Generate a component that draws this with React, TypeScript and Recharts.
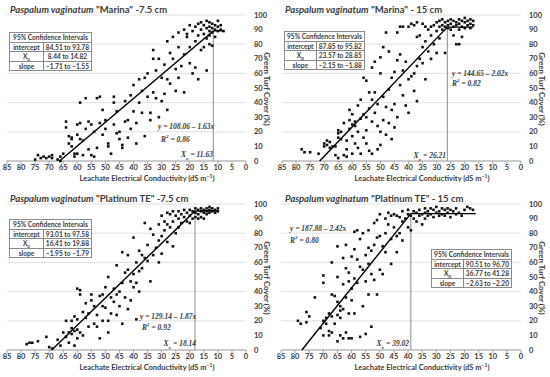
import React from "react";
import { ScatterChart, Scatter, XAxis, YAxis, CartesianGrid, ReferenceLine } from "recharts";

type Pt = [number, number];

const ecTicks = [85, 80, 75, 70, 65, 60, 55, 50, 45, 40, 35, 30, 25, 20, 15, 10, 5, 0];
const coverTicks = [0, 10, 20, 30, 40, 50, 60, 70, 80, 90, 100];

// Paspalum vaginatum "Marina" -7.5 cm
const marina75: Pt[] = [
  [75, 1], [74, 4], [73, 2], [72, 3], [71, 2], [70, 3], [69, 4], [69, 2], [67, 1], [66, 0], [66, 3], [65, 5],
  [64, 23], [64, 27], [63, 17], [63, 12], [62, 15], [62, 16], [62, 10], [61, 5], [61, 3], [60, 25], [60, 18],
  [60, 5], [59, 40], [59, 26], [59, 15], [58, 14], [58, 4], [57, 43], [57, 22], [56, 27], [56, 8], [55, 25],
  [55, 4], [54, 3], [54, 20], [53, 43], [53, 9], [52, 44], [52, 26], [51, 18], [51, 35], [50, 28], [50, 22],
  [49, 12], [49, 10], [48, 5], [47, 44], [47, 40], [47, 25], [46, 19], [46, 34], [45, 20], [45, 15], [44, 11],
  [44, 9], [43, 41], [43, 27], [42, 16], [42, 28], [41, 45], [41, 22], [40, 52], [40, 34], [39, 26], [39, 12],
  [38, 56], [38, 40], [37, 48], [37, 33], [36, 17], [36, 57], [35, 44], [35, 60], [34, 28], [34, 33], [33, 76],
  [33, 70], [33, 47], [32, 62], [32, 43], [31, 70], [31, 30], [30, 57], [30, 41], [29, 66], [29, 46], [28, 35],
  [28, 82], [28, 56], [27, 74], [27, 53], [26, 85], [26, 70], [25, 63], [25, 48], [24, 88], [24, 78], [24, 57],
  [23, 65], [22, 73], [22, 90], [22, 47], [21, 87], [21, 85], [20, 93], [20, 78], [20, 67], [19, 89], [19, 60],
  [18, 92], [18, 82], [18, 64], [17, 94], [17, 86], [17, 56], [16, 95], [16, 90], [16, 76], [15, 93], [15, 87],
  [15, 78], [14, 96], [14, 91], [14, 84], [14, 62], [13, 95], [13, 92], [13, 89], [13, 86], [13, 80], [12, 94],
  [12, 91], [12, 88], [12, 79], [11, 93], [11, 90], [11, 85], [10, 96], [10, 92], [10, 89], [9, 93], [9, 90], [8, 89],
];

// Paspalum vaginatum "Marina" - 15 cm
const marina15: Pt[] = [
  [78, 8], [77, 6], [75, 6], [72, 5], [70, 12], [70, 10], [69, 14], [69, 11], [68, 13], [68, 9], [67, 10], [66, 10],
  [66, 4], [65, 21], [65, 19], [65, 16], [65, 2], [64, 20], [64, 15], [63, 26], [63, 4], [62, 14], [62, 8], [62, 3],
  [61, 35], [61, 28], [61, 22], [60, 32], [60, 25], [60, 17], [60, 5], [59, 27], [59, 24], [59, 12], [58, 38],
  [58, 20], [58, 9], [57, 29], [57, 42], [57, 5], [56, 57], [56, 32], [56, 16], [55, 55], [55, 30], [55, 21],
  [55, 12], [54, 47], [54, 36], [54, 7], [53, 64], [53, 42], [53, 27], [53, 5], [52, 68], [52, 47], [52, 33],
  [51, 39], [51, 24], [51, 8], [50, 71], [50, 60], [50, 20], [50, 11], [49, 78], [49, 44], [49, 28], [48, 88],
  [48, 37], [48, 18], [47, 75], [47, 49], [47, 26], [46, 57], [46, 35], [46, 15], [45, 61], [45, 39], [45, 23],
  [44, 88], [44, 69], [44, 30], [43, 92], [43, 73], [43, 52], [42, 92], [42, 62], [42, 45], [41, 68], [41, 38],
  [40, 92], [40, 56], [40, 33], [39, 94], [39, 58], [38, 93], [38, 60], [38, 48], [37, 95], [37, 85], [37, 65],
  [37, 41], [36, 86], [36, 70], [35, 94], [35, 78], [35, 67], [34, 92], [34, 82], [34, 56], [33, 90], [33, 75],
  [32, 92], [32, 86], [32, 70], [31, 93], [31, 80], [30, 95], [30, 89], [30, 74], [29, 96], [29, 92], [29, 84],
  [28, 97], [28, 93], [28, 90], [27, 95], [27, 92], [27, 74], [26, 96], [26, 93], [26, 91], [25, 97], [25, 94],
  [25, 90], [24, 96], [24, 92], [24, 86], [23, 95], [23, 93], [23, 80], [22, 97], [22, 94], [22, 90], [22, 80],
  [21, 96], [21, 92], [21, 85], [20, 98], [20, 95], [20, 91], [19, 96], [19, 93], [18, 97], [18, 94], [18, 91],
  [17, 96], [17, 93],
];

// Paspalum vaginatum "Platinum TE" -7.5 cm
const platinum75: Pt[] = [
  [78, 4], [77, 5], [76, 5], [74, 6], [71, 9], [70, 2], [69, 1], [67, 7], [66, 3], [65, 12], [64, 20], [64, 9],
  [63, 12], [63, 5], [62, 20], [62, 15], [62, 11], [61, 23], [61, 13], [61, 3], [60, 42], [60, 21], [60, 14],
  [60, 8], [59, 41], [59, 38], [59, 12], [58, 26], [58, 10], [57, 22], [57, 32], [56, 25], [56, 16], [55, 38],
  [55, 34], [54, 30], [54, 18], [53, 24], [53, 16], [52, 8], [52, 37], [51, 38], [51, 30], [51, 20], [50, 43],
  [50, 29], [49, 50], [49, 20], [49, 12], [48, 36], [48, 25], [47, 42], [47, 33], [46, 58], [46, 38], [46, 24],
  [45, 40], [45, 30], [44, 67], [44, 46], [44, 18], [43, 53], [43, 36], [42, 65], [42, 55], [42, 28], [41, 47],
  [41, 34], [40, 77], [40, 52], [40, 43], [39, 60], [39, 46], [39, 21], [38, 68], [38, 54], [38, 40], [37, 65],
  [37, 56], [36, 87], [36, 63], [35, 72], [35, 61], [34, 83], [34, 47], [33, 79], [33, 65], [32, 70], [31, 86],
  [31, 75], [31, 60], [30, 92], [30, 78], [30, 66], [29, 88], [29, 82], [28, 94], [28, 86], [28, 74], [27, 93],
  [27, 84], [26, 95], [26, 88], [26, 71], [25, 92], [25, 80], [24, 95], [24, 90], [24, 84], [23, 93], [23, 87],
  [22, 96], [22, 91], [21, 94], [21, 88], [20, 96], [20, 92], [20, 87], [19, 95], [19, 90], [18, 97], [18, 94],
  [18, 91], [17, 96], [17, 93], [17, 90], [16, 97], [16, 95], [16, 91], [15, 96], [15, 94], [15, 90], [14, 97],
  [14, 95], [14, 93], [13, 98], [13, 96], [13, 94], [12, 97], [12, 95], [11, 96], [11, 94], [10, 97], [10, 95],
];

// Paspalum vaginatum "Platinum TE" - 15 cm
const platinum15: Pt[] = [
  [79, 20], [78, 18], [76, 26], [76, 19], [75, 23], [73, 36], [71, 15], [70, 51], [70, 46], [70, 20], [70, 10],
  [69, 22], [69, 18], [68, 25], [68, 13], [68, 10], [67, 60], [67, 38], [67, 23], [67, 12], [66, 37], [66, 18],
  [65, 71], [65, 50], [65, 33], [65, 24], [65, 6], [64, 30], [64, 27], [64, 22], [64, 10], [63, 63], [63, 45],
  [63, 28], [63, 8], [62, 72], [62, 56], [62, 36], [62, 12], [61, 53], [61, 47], [61, 25], [61, 8], [60, 64],
  [60, 42], [60, 34], [60, 8], [59, 81], [59, 69], [59, 49], [59, 25], [58, 82], [58, 62], [58, 46], [57, 76],
  [57, 57], [57, 9], [56, 80], [56, 55], [56, 30], [55, 65], [55, 47], [55, 11], [54, 82], [54, 70], [54, 59],
  [54, 38], [53, 68], [53, 52], [53, 16], [52, 87], [52, 72], [52, 48], [51, 89], [51, 77], [51, 38], [50, 93],
  [50, 78], [50, 55], [49, 71], [49, 52], [48, 90], [48, 80], [48, 67], [47, 94], [47, 86], [46, 92], [46, 76],
  [46, 59], [45, 93], [45, 84], [44, 92], [44, 78], [44, 67], [43, 91], [43, 80], [42, 95], [42, 88], [42, 75],
  [41, 90], [40, 96], [40, 84], [40, 93], [39, 92], [39, 82], [38, 95], [38, 90], [37, 94], [37, 88], [36, 96],
  [36, 92], [35, 93], [35, 86], [34, 97], [34, 94], [34, 90], [33, 95], [33, 92], [32, 97], [32, 93], [31, 96],
  [31, 91], [30, 98], [30, 94], [29, 95], [29, 92], [28, 97], [28, 93], [27, 96], [27, 92], [26, 97], [26, 94],
  [25, 96], [25, 91], [24, 95], [23, 97], [23, 93], [22, 94], [21, 92], [20, 96], [19, 98], [18, 97], [17, 96],
];

// fitted linear-plateau lines (x-intercept, break point, plateau end)
const marina75Fit: Pt[] = [[66.3, 0], [11.63, 89.1], [8, 89.1]];
const marina15Fit: Pt[] = [[71.6, 0], [26.21, 91.7], [17, 91.7]];
const platinum75Fit: Pt[] = [[69.1, 0], [18.14, 95.2], [10, 95.2]];
const platinum15Fit: Pt[] = [[77.6, 0], [39.02, 93.4], [16, 93.4]];

const cultivars = ['"Marina" -7.5 cm', '"Marina" - 15 cm', '"Platinum TE" -7.5 cm', '"Platinum TE" - 15 cm'];
const equations = ["y = 108.06 \u2013 1.63x", "y = 144.65 \u2013 2.02x", "y = 129.14 \u2013 1.87x", "y = 187.88 \u2013 2.42x"];
const r2Values = ["0.86", "0.82", "0.92", "0.80"];
const x0Values = [11.63, 26.21, 18.14, 39.02];
const ciIntercept = ["84.51 to 93.78", "87.85 to 95.82", "93.01 to 97.58", "90.51 to 96.70"];
const ciX0 = ["8.44 to 14.82", "23.57 to 28.85", "16.41 to 19.88", "36.77 to 41.28"];
const ciSlope = ["\u20131.71 to \u20131.55", "\u20132.15 to \u20131.88", "\u20131.95 to \u20131.79", "\u20132.63 to \u20132.20"];

const FONT = "Lato, 'Liberation Sans', Arial, sans-serif";
const TXT = "#3b3b3b";

const panels = [
  { pts: marina75, fit: marina75Fit, left: 0, top: 0, mt: 15, mb: 15, ml: 7,
    table: { x: 9, y: 32, w: 83, c1: 30 }, eq: { x: 158, y: 122 }, r2: { x: 161, y: 134 }, x0: { r: 62, y: 150 } },
  { pts: marina15, fit: marina15Fit, left: 275, top: 0, mt: 15, mb: 15, ml: 7,
    table: { x: 9, y: 31, w: 80, c1: 29 }, eq: { x: 177, y: 69 }, r2: { x: 177, y: 78 }, x0: { r: 104, y: 151 } },
  { pts: platinum75, fit: platinum75Fit, left: 0, top: 185, mt: 19, mb: 11, ml: 7,
    table: { x: 9, y: 34, w: 83, c1: 31 }, eq: { x: 140, y: 127 }, r2: { x: 142, y: 137 }, x0: { r: 79, y: 154 } },
  { pts: platinum15, fit: platinum15Fit, left: 275, top: 185, mt: 19, mb: 11, ml: 6,
    table: { x: 156, y: 64, w: 81, c1: 31 }, eq: { x: 15, y: 39 }, r2: { x: 15, y: 50 }, x0: { r: 141, y: 154 } },
];

const Dot = (p: any) => <rect x={p.cx - 1.3} y={p.cy - 1.3} width={2.6} height={2.6} fill="#111" />;
const NoDot = () => <g />;

const cell: React.CSSProperties = {
  border: "1px solid #8c8c8c",
  padding: "0 2px",
  height: 8.5,
  lineHeight: "8px",
  textAlign: "center",
  whiteSpace: "nowrap",
};

function Panel({ i }: { i: number }) {
  const p = panels[i];
  const pts = p.pts.map(([x, y]) => ({ x, y }));
  const fit = p.fit.map(([x, y]) => ({ x, y }));
  const plateau = p.fit[1][1];
  return (
    <div style={{ position: "absolute", left: p.left, top: p.top, width: 275, height: 190, fontFamily: FONT, color: TXT }}>
      <ScatterChart width={275} height={190} margin={{ top: p.mt, right: 7, bottom: p.mb, left: p.ml }}>
        <CartesianGrid vertical={false} stroke="#d9d9d9" strokeWidth={0.8} />
        <XAxis
          type="number"
          dataKey="x"
          domain={[0, 85]}
          reversed
          ticks={ecTicks}
          interval={0}
          height={14}
          tickSize={3}
          tickMargin={1}
          stroke="#a6a6a6"
          tick={{ fontSize: 7.5, fontWeight: 700, fill: TXT, fontFamily: FONT }}
        />
        <YAxis
          type="number"
          dataKey="y"
          orientation="right"
          domain={[0, 100]}
          ticks={coverTicks}
          width={22}
          axisLine={false}
          tickLine={false}
          tick={{ fontSize: 7.5, fontWeight: 700, fill: TXT, fontFamily: FONT }}
        />
        <ReferenceLine
          segment={[{ x: x0Values[i], y: 0 }, { x: x0Values[i], y: plateau }]}
          stroke="#8c8c8c"
          strokeWidth={1}
        />
        <Scatter data={pts} shape={Dot} isAnimationActive={false} />
        <Scatter data={fit} shape={NoDot} line={{ stroke: "#000", strokeWidth: 1.4 }} isAnimationActive={false} />
      </ScatterChart>

      <div style={{ position: "absolute", left: 10, top: p.mt - 11, fontSize: 9.5, fontWeight: 700, whiteSpace: "nowrap", lineHeight: "11px" }}>
        <i>Paspalum vaginatum</i> {cultivars[i]}
      </div>

      <div
        style={{
          position: "absolute",
          left: 147,
          top: p.mt + 159,
          transform: "translateX(-50%)",
          fontSize: 7.5,
          lineHeight: "10px",
          fontWeight: 700,
          whiteSpace: "nowrap",
        }}
      >
        Leachate Electrical Conductivity (dS m<sup style={{ fontSize: 5, verticalAlign: "3px", lineHeight: 0 }}>&minus;1</sup>)
      </div>

      <div
        style={{
          position: "absolute",
          left: 267,
          top: p.mt + 74,
          transform: "translate(-50%, -50%) rotate(90deg)",
          fontSize: 8,
          fontWeight: 700,
          whiteSpace: "nowrap",
        }}
      >
        Green Turf Cover (%)
      </div>

      <table
        style={{
          position: "absolute",
          left: p.table.x,
          top: p.table.y,
          width: p.table.w,
          borderCollapse: "collapse",
          border: "1.5px solid #7f7f7f",
          fontSize: 6.6,
          fontWeight: 700,
          background: "#fff",
          color: TXT,
          fontFamily: FONT,
        }}
      >
        <tbody>
          <tr>
            <td colSpan={2} style={cell}>95% Confidence Intervals</td>
          </tr>
          <tr>
            <td style={{ ...cell, width: p.table.c1 }}>intercept</td>
            <td style={cell}>{ciIntercept[i]}</td>
          </tr>
          <tr>
            <td style={cell}>
              X<sub style={{ fontSize: 4.5, lineHeight: 0 }}>0</sub>
            </td>
            <td style={cell}>{ciX0[i]}</td>
          </tr>
          <tr>
            <td style={cell}>slope</td>
            <td style={cell}>{ciSlope[i]}</td>
          </tr>
        </tbody>
      </table>

      <div style={{ position: "absolute", left: p.eq.x, top: p.eq.y, fontSize: 7.5, fontWeight: 700, fontStyle: "italic", fontFamily: "'Liberation Serif', serif", whiteSpace: "nowrap" }}>
        {equations[i]}
      </div>
      <div style={{ position: "absolute", left: p.r2.x, top: p.r2.y, fontSize: 7.5, fontWeight: 700, fontStyle: "italic", fontFamily: "'Liberation Serif', serif", whiteSpace: "nowrap" }}>
        R<sup style={{ fontSize: 5 }}>2</sup> = {r2Values[i]}
      </div>
      <div style={{ position: "absolute", right: p.x0.r, top: p.x0.y, fontSize: 7.5, fontWeight: 700, fontStyle: "italic", fontFamily: "'Liberation Serif', serif", whiteSpace: "nowrap" }}>
        X<sub style={{ fontSize: 5 }}>o</sub> = {x0Values[i].toFixed(2)}
      </div>
    </div>
  );
}

export default function App() {
  return (
    <div style={{ position: "absolute", left: 0, top: 0, width: 550, height: 377, background: "#fff", overflow: "hidden" }}>
      {panels.map((_, i) => (
        <Panel key={i} i={i} />
      ))}
    </div>
  );
}
